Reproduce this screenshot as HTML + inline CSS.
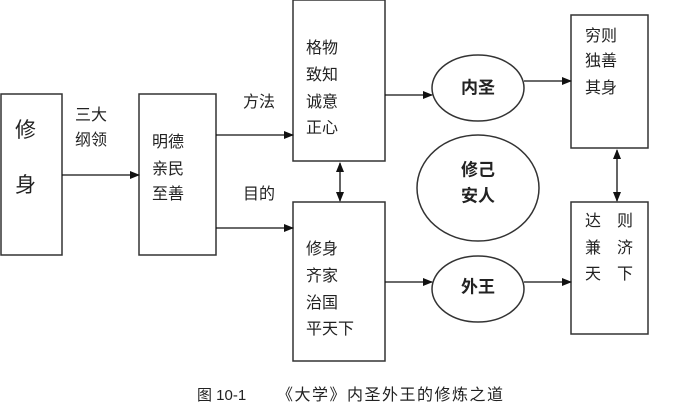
<!DOCTYPE html>
<html><head><meta charset="utf-8"><style>
body{margin:0;background:#fff;}
svg text{font-family:"Liberation Sans","Noto Sans CJK SC",sans-serif;fill:#222;}
</style></head><body>
<svg width="678" height="411" viewBox="0 0 678 411" xmlns="http://www.w3.org/2000/svg">
<defs><marker id="a" markerWidth="10" markerHeight="8" refX="9" refY="4" orient="auto-start-reverse" markerUnits="userSpaceOnUse"><path d="M0,0L10,4L0,8z" fill="#111"/></marker></defs>
<g fill="none" stroke="#333" stroke-width="1.5">
<rect x="1" y="94" width="61" height="161"/>
<rect x="139" y="94" width="77" height="161"/>
<rect x="293" y="0" width="92" height="161"/>
<rect x="293" y="202" width="92" height="159"/>
<rect x="571" y="15" width="77" height="133"/>
<rect x="571" y="202" width="77" height="132"/>
<ellipse cx="478" cy="88" rx="46" ry="33"/>
<ellipse cx="478" cy="289" rx="46" ry="33"/>
<ellipse cx="478" cy="188" rx="61" ry="53"/>
</g>
<g stroke="#111" stroke-width="1.3" marker-end="url(#a)">
<line x1="62" y1="175" x2="139" y2="175"/>
<line x1="216" y1="135" x2="293" y2="135"/>
<line x1="216" y1="228" x2="293" y2="228"/>
<line x1="385" y1="95" x2="432" y2="95"/>
<line x1="524" y1="81" x2="571" y2="81"/>
<line x1="385" y1="282" x2="432" y2="282"/>
<line x1="524" y1="282" x2="571" y2="282"/>
<line x1="340" y1="163" x2="340" y2="201" marker-start="url(#a)"/>
<line x1="617" y1="150" x2="617" y2="201" marker-start="url(#a)"/>
</g>
<g font-size="21"><text x="15" y="137">修</text><text x="15" y="192">身</text></g>
<g font-size="16">
<text x="75" y="120">三大</text><text x="75" y="145">纲领</text>
<text x="243" y="107">方法</text><text x="243" y="199">目的</text>
<text x="152" y="147">明德</text><text x="152" y="174">亲民</text><text x="152" y="199">至善</text>
<text x="306" y="53">格物</text><text x="306" y="80">致知</text><text x="306" y="107">诚意</text><text x="306" y="133">正心</text>
<text x="306" y="254">修身</text><text x="306" y="281">齐家</text><text x="306" y="308">治国</text><text x="306" y="334">平天下</text>
<text x="585" y="41">穷则</text><text x="585" y="66">独善</text><text x="585" y="93">其身</text>
<text x="585" y="226">达</text><text x="617" y="226">则</text>
<text x="585" y="253">兼</text><text x="617" y="253">济</text>
<text x="585" y="279">天</text><text x="617" y="279">下</text>
</g>
<g font-size="17" font-weight="bold">
<text x="478" y="88" text-anchor="middle" dominant-baseline="central">内圣</text>
<text x="478" y="287" text-anchor="middle" dominant-baseline="central">外王</text>
<text x="478" y="170" text-anchor="middle" dominant-baseline="central">修己</text>
<text x="478" y="196" text-anchor="middle" dominant-baseline="central">安人</text>
</g>
<text x="197" y="400" font-size="15">图 10-1</text>
<text x="277" y="400" font-size="16" letter-spacing="1.5">《大学》内圣外王的修炼之道</text>
</svg>
</body></html>
